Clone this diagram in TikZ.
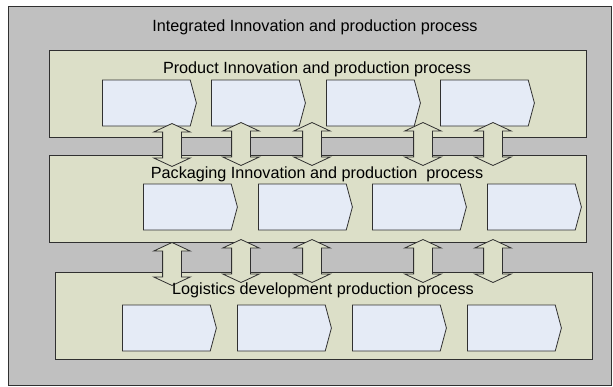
\documentclass[tikz,border=0pt]{standalone}
\usepackage{fontspec}
\setmainfont{Liberation Sans}
\usetikzlibrary{shapes.symbols}
\usetikzlibrary{shapes.arrows}
\usetikzlibrary{positioning}

\definecolor{bggray}{HTML}{C0C0C0}
\definecolor{panelfill}{HTML}{DCDFC8}
\definecolor{boxfill}{HTML}{E5EBF6}
\definecolor{edgegray}{HTML}{303030}

\begin{document}
\begin{tikzpicture}[
  x=1pt, y=-1pt,
  every node/.style={inner sep=0, font=\fontsize{16.2}{19}\selectfont},
  every path/.style={line width=0.8pt},
  outer/.style={draw=edgegray, fill=bggray, anchor=north west},
  panel/.style={draw=edgegray, fill=panelfill, anchor=north west, minimum width=537pt, minimum height=87pt},
  stage/.style={draw=edgegray, fill=boxfill, shape=signal, signal to=east, signal pointer angle=150, anchor=west, minimum width=94pt, minimum height=46pt},
  link/.style={draw=edgegray, fill=panelfill, shape=double arrow, rotate=90, inner xsep=0pt, inner ysep=9pt, double arrow head extend=9pt, double arrow tip angle=130, minimum width=36pt, minimum height=43pt},
  lbl/.style={text=black}
  ]
  \useasboundingbox (0,0) rectangle (613,386);
  \node[outer, minimum width=603pt, minimum height=379pt](integ) at (8,6) {};
  \node[lbl](integlbl) at (315,27) {Integrated Innovation and production process};

  % product
  \node[panel](prod) at (49,50) {};
  \node[stage](p1) at (102,103) {};
  \node[stage](p2) at (211,103) {};
  \node[stage](p3) at (326,103) {};
  \node[stage](p4) at (440,103) {};

  % packaging
  \node[panel](pack) at (49,155) {};
  \node[stage](k1) at (143,207) {};
  \node[stage](k2) at (258,207) {};
  \node[stage](k3) at (372,207) {};
  \node[stage](k4) at (487,207) {};

  % logistics
  \node[panel](logi) at (55,272) {};
  \node[stage](l1) at (122,328) {};
  \node[stage](l2) at (237,328) {};
  \node[stage](l3) at (352,328) {};
  \node[stage](l4) at (467,328) {};

  % links product <-> packaging
  \node[link](a1) at (172,145) {};
  \node[link](a2) at (241,144) {};
  \node[link](a3) at (312,144) {};
  \node[link](a4) at (423,144) {};
  \node[link](a5) at (493,144) {};
  % links packaging <-> logistics
  \node[link](b1) at (172,264) {};
  \node[link](b2) at (241,261) {};
  \node[link](b3) at (312,261) {};
  \node[link](b4) at (423,261) {};
  \node[link](b5) at (493,261) {};

  \node[lbl](prodlbl) at (317,69) {Product Innovation and production process};
  \node[lbl](packlbl) at (317,174) {Packaging Innovation and production\ \ process};
  \node[lbl](logilbl) at (323,290) {Logistics development production process};
\end{tikzpicture}
\end{document}
